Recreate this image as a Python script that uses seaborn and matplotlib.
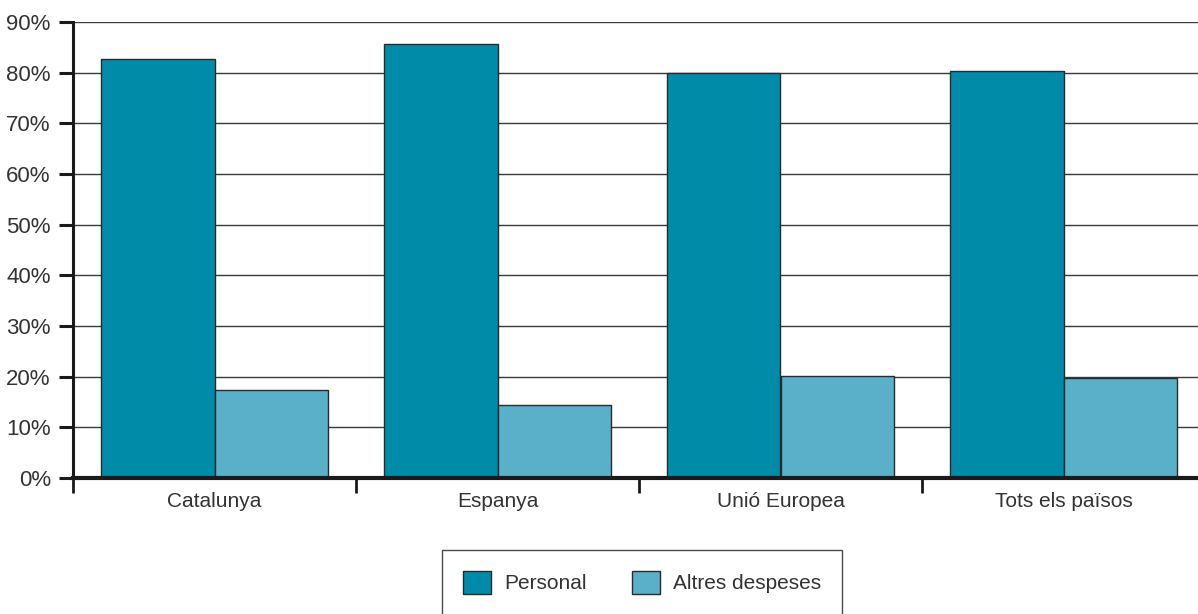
import matplotlib
matplotlib.use("Agg")
import matplotlib.pyplot as plt
import seaborn as sns
import pandas as pd
import numpy as np

categories = ["Catalunya", "Espanya", "Unió Europea", "Tots els països"]
personal = [82.6, 85.6, 79.9, 80.3]
altres = [17.4, 14.4, 20.1, 19.7]
series_names = ["Personal", "Altres despeses"]
yticks = [0, 10, 20, 30, 40, 50, 60, 70, 80, 90]

df = pd.DataFrame({
    "cat": categories * 2,
    "serie": [series_names[0]] * 4 + [series_names[1]] * 4,
    "val": personal + altres,
})

sns.set_theme(style="white")
plt.rcParams["font.family"] = ["Liberation Sans", "DejaVu Sans"]
txt = "#333333"

W, H = 1198, 614
fig = plt.figure(figsize=(W / 100, H / 100), dpi=100)
left, right, top, bottom = 73, 1205, 22, 478
ax = fig.add_axes([left / W, 1 - bottom / H, (right - left) / W, (bottom - top) / H])

sns.barplot(data=df, x="cat", y="val", hue="serie", order=categories,
            hue_order=series_names, palette=["#008BA8", "#5AB0C8"],
            saturation=1, width=0.8, edgecolor="#2a2a2a", linewidth=1.0,
            ax=ax, zorder=3)

ax.set_xlim(-0.5, 3.5)
ax.set_ylim(0, 90)
ax.set_yticks(yticks)
ax.set_yticklabels([f"{v}%" for v in yticks], fontsize=16, color=txt)
for v in yticks[1:]:
    ax.axhline(v, color="#3a3a3a", lw=1.0, zorder=1)

ax.set_xticks(range(4))
ax.set_xticklabels(categories, fontsize=15, color=txt)
ax.set_xticks(np.arange(-0.5, 3.6, 1.0), minor=True)
ax.tick_params(axis="x", which="major", length=0, pad=10, bottom=True)
ax.tick_params(axis="x", which="minor", length=11, width=2, color="#1a1a1a",
               direction="out", bottom=True)
ax.tick_params(axis="y", which="major", length=10, width=2.2, color="#1a1a1a",
               direction="out", pad=6, left=True)

ax.set_xlabel("")
ax.set_ylabel("")
for s in ["top", "right"]:
    ax.spines[s].set_visible(False)
ax.spines["left"].set_linewidth(2.2)
ax.spines["left"].set_color("#1a1a1a")
ax.spines["bottom"].set_linewidth(3)
ax.spines["bottom"].set_color("#1a1a1a")
ax.spines["bottom"].set_zorder(5)

handles, labels = ax.get_legend_handles_labels()
if ax.legend_:
    ax.legend_.remove()
leg = fig.legend(handles, labels, loc="upper center",
                 bbox_to_anchor=(642 / W, 1 - 550 / H), ncol=2, fontsize=15,
                 frameon=True, fancybox=False, edgecolor="#1a1a1a",
                 handlelength=1.35, handleheight=1.35, handletextpad=0.6,
                 columnspacing=2.2, borderpad=1.0, borderaxespad=0)
leg.get_frame().set_linewidth(1.0)
for t in leg.get_texts():
    t.set_color(txt)

fig.savefig("out.png", dpi=100)
